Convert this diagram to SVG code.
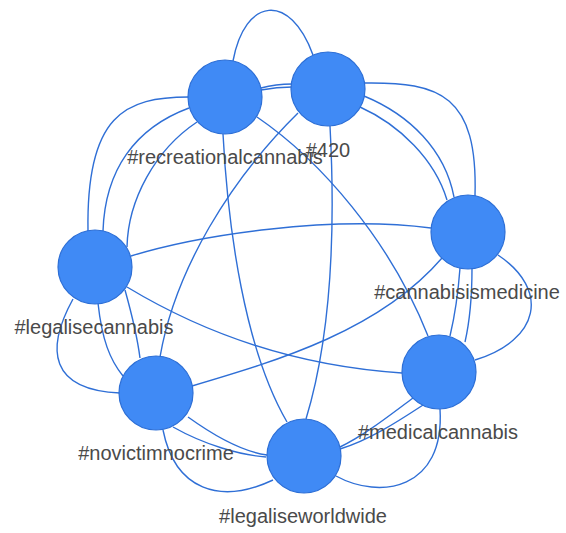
<svg xmlns="http://www.w3.org/2000/svg" width="566" height="533" viewBox="0 0 566 533">
<style>
.e{fill:none;stroke:#2f6fd6;stroke-width:1.4}
.n circle{fill:#408af5;stroke:#2d6fd6;stroke-width:1.2}
.n text{font-family:"Liberation Sans",Arial,sans-serif;font-size:20px;fill:#4a4a4a;text-anchor:middle}
</style>
<rect width="566" height="533" fill="#ffffff"/>
<g id="edges">
<path class="e" d="M233 61 C245 -3 290 -8 313 55"/>
<path class="e" d="M261 88 Q276 84 292 84"/>
<path class="e" d="M261 90 Q277 87 292 87"/>
<path class="e" d="M189 97 C125 97 86 115 88 231"/>
<path class="e" d="M189 108 C135 128 105 170 103 231"/>
<path class="e" d="M197 122 C155 150 128 200 127 247"/>
<path class="e" d="M223 134 C228 230 245 350 287 422"/>
<path class="e" d="M257 117 C320 160 390 240 428 336"/>
<path class="e" d="M298 113 C230 180 175 270 160 357"/>
<path class="e" d="M330 126 C335 220 333 330 306 419"/>
<path class="e" d="M365 83 C440 82 478 95 475 196"/>
<path class="e" d="M364 96 C410 115 445 150 454 197"/>
<path class="e" d="M360 107 C400 125 435 160 447 200"/>
<path class="e" d="M131 256 C200 235 330 215 431 228"/>
<path class="e" d="M127 287 C190 325 280 365 402 373"/>
<path class="e" d="M73 299 C45 350 50 390 120 393"/>
<path class="e" d="M98 303 C102 340 110 360 123 376"/>
<path class="e" d="M125 290 C132 315 137 335 140 358"/>
<path class="e" d="M192 386 C280 360 380 330 442 258"/>
<path class="e" d="M188 417 C220 440 245 452 267 455"/>
<path class="e" d="M173 427 C205 445 240 455 266 457"/>
<path class="e" d="M163 430 C175 490 220 505 273 480"/>
<path class="e" d="M340 447 C365 435 390 415 413 398"/>
<path class="e" d="M340 449 C370 440 400 420 423 405"/>
<path class="e" d="M336 476 C380 500 445 490 440 409"/>
<path class="e" d="M460 268 C458 295 455 315 450 336"/>
<path class="e" d="M472 268 C472 295 470 320 465 342"/>
<path class="e" d="M475 360 C540 340 550 290 498 255"/>
</g>
<g id="node-recreationalcannabis" class="n"><circle cx="225" cy="97" r="37"/><text x="225" y="164">#recreationalcannabis</text></g>
<g id="node-420" class="n"><circle cx="328" cy="89" r="37"/><text x="328" y="157">#420</text></g>
<g id="node-cannabisismedicine" class="n"><circle cx="468" cy="232" r="37"/><text x="467" y="299">#cannabisismedicine</text></g>
<g id="node-legalisecannabis" class="n"><circle cx="95" cy="267" r="37"/><text x="94" y="334">#legalisecannabis</text></g>
<g id="node-novictimnocrime" class="n"><circle cx="156" cy="393" r="37"/><text x="156" y="460">#novictimnocrime</text></g>
<g id="node-legaliseworldwide" class="n"><circle cx="304" cy="456" r="37"/><text x="303" y="523">#legaliseworldwide</text></g>
<g id="node-medicalcannabis" class="n"><circle cx="439" cy="372" r="37"/><text x="438" y="439">#medicalcannabis</text></g>
</svg>
